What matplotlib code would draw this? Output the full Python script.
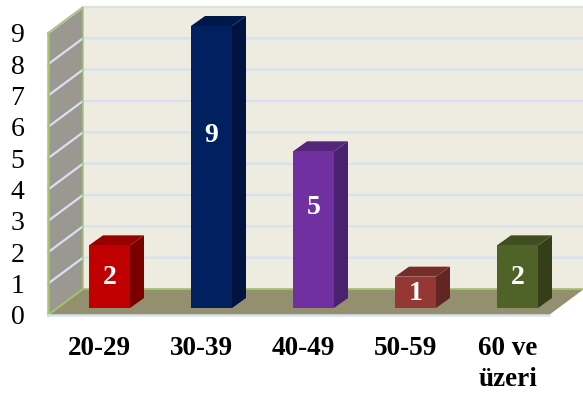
import matplotlib
matplotlib.use("Agg")
import matplotlib.pyplot as plt
from matplotlib.patches import Polygon
from matplotlib.transforms import ScaledTranslation

plt.rcParams['font.family'] = ['Liberation Serif', 'DejaVu Serif']

# datos
categorias = ["20-29", "30-39", "40-49", "50-59", "60 ve\nüzeri"]
valores = [2, 9, 5, 1, 2]
altura_etiqueta = [0.97, 5.52, 3.22, 0.47, 0.97]
y_ticks = [0, 1, 2, 3, 4, 5, 6, 7, 8, 9]

color_frente = ["#C00000", "#002060", "#7030A0", "#953735", "#4F6228"]
color_lado = ["#7A0000", "#001340", "#4A2070", "#632523", "#343F1A"]
color_arriba = ["#990000", "#001848", "#55257C", "#772C2A", "#3F4E20"]

W, H = 583, 397
fig = plt.figure(figsize=(W / 100, H / 100), dpi=100)
# el eje es el plano frontal: de x=48 a 549 y de y=33 a 315 en pixeles
ax = fig.add_axes([48 / W, 1 - 315 / H, (549 - 48) / W, (315 - 33) / H])

px_x = 102.0  # pixeles por categoria
px_y = 282.0 / 9
ax.set_xlim((48 - 109.5) / px_x, (549 - 109.5) / px_x)
ax.set_ylim(0, 9)

ancho = 41 / px_x
base = 7 / px_y
# profundidad del fondo y de las barras
prof_x, prof_y = 35 / px_x, 26 / px_y
bar_x, bar_y = 14 / px_x, 10 / px_y

x0, x1 = ax.get_xlim()


def poligono(puntos, color, z):
    ax.add_patch(Polygon(puntos, closed=True, facecolor=color, edgecolor="none",
                         linewidth=0, zorder=z, clip_on=False))


# fondo, pared lateral y piso
poligono([(x0 + prof_x, prof_y), (x1 + prof_x, prof_y), (x1 + prof_x, 9 + prof_y), (x0 + prof_x, 9 + prof_y)], "#EEECE1", 1)
poligono([(x0, 0), (x0 + prof_x, prof_y), (x0 + prof_x, 9 + prof_y), (x0, 9)], "#9A9890", 1)
poligono([(x0, 0), (x1, 0), (x1 + prof_x, prof_y), (x0 + prof_x, prof_y)], "#948F6E", 2)

# lineas de la grilla
for v in y_ticks[1:]:
    ax.plot([x0, x0 + prof_x, x1 + prof_x], [v, v + prof_y, v + prof_y],
            color="#D6E2F0", lw=1.6, zorder=1.5, clip_on=False, solid_joinstyle="miter")
ax.plot([x0 + prof_x, x1 + prof_x], [9 + prof_y, 9 + prof_y], color="#D9E6DC", lw=1.5, zorder=1.6, clip_on=False)

# bordes verdes
ax.plot([x0, x0], [0, 9], color="#A6C46E", lw=1.8, zorder=3, clip_on=False)
ax.plot([x0, x0 + prof_x, x0 + prof_x], [9, 9 + prof_y, prof_y], color="#A6C46E", lw=1.0, zorder=3, clip_on=False)
ax.plot([x0, x0 + prof_x, x1 + prof_x], [0, prof_y, prof_y], color="#A6C46E", lw=1.3, zorder=3, clip_on=False)
ax.plot([x0, x1], [0, 0], color="#D6E2F0", lw=1.8, zorder=3, clip_on=False)

# barras
posiciones = list(range(len(valores)))
barras = ax.bar(posiciones, valores, width=ancho, bottom=base, color=color_frente, zorder=5)
for b in barras:
    b.set_clip_on(False)
for i, v in enumerate(valores):
    der = i + ancho / 2
    izq = i - ancho / 2
    tope = base + v
    poligono([(der, base), (der + bar_x, base + bar_y), (der + bar_x, tope + bar_y), (der, tope)], color_lado[i], 4)
    poligono([(izq, tope), (der, tope), (der + bar_x, tope + bar_y), (izq + bar_x, tope + bar_y)], color_arriba[i], 4)
    ax.text(i, base + altura_etiqueta[i], str(v), color="white", fontsize=20, fontweight="bold",
            ha="center", va="center", zorder=6)

# ejes
for s in ax.spines.values():
    s.set_visible(False)
ax.patch.set_visible(False)
ax.set_xticks(posiciones)
ax.set_xticklabels(categorias, fontsize=19.5, fontweight="bold", linespacing=1.35)
ax.set_yticks(y_ticks)
ax.set_yticklabels([str(v) for v in y_ticks], fontsize=20)
ax.tick_params(axis="x", length=0, pad=15)
ax.tick_params(axis="y", length=0, pad=22)
for t in ax.get_yticklabels():
    t.set_horizontalalignment("center")
# las etiquetas van 10 px a la izquierda del centro de la barra
corrimiento = ScaledTranslation(-10 / 100, 0, fig.dpi_scale_trans)
for t in ax.get_xticklabels():
    t.set_transform(t.get_transform() + corrimiento)

fig.savefig("out.png", dpi=100)
